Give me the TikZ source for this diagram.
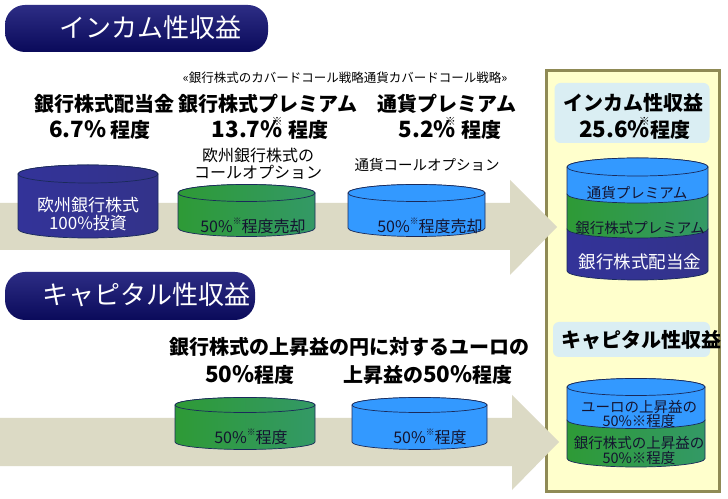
\documentclass[tikz,border=0pt]{standalone}
\usepackage{fontspec}
\setmainfont{Noto Sans CJK JP}
\definecolor{arrowc}{HTML}{DCDAC5}
\definecolor{panelfill}{HTML}{FFFFCC}
\definecolor{panelline}{HTML}{8F8A55}
\definecolor{lightbox}{HTML}{DAEEF3}
\definecolor{cylborder}{HTML}{1A2A5A}
\definecolor{navyL}{HTML}{333399}
\definecolor{navyM}{HTML}{6A6A9E}
\definecolor{navyR}{HTML}{33338A}
\definecolor{grnL}{HTML}{2E9A36}
\definecolor{grnM}{HTML}{00CC66}
\definecolor{grnR}{HTML}{339966}
\definecolor{bluL}{HTML}{3399FF}
\definecolor{bluM}{HTML}{33CCFF}
\definecolor{bluR}{HTML}{3399FF}
\definecolor{banT}{HTML}{2D2D85}
\definecolor{banM}{HTML}{7C7CA8}
\definecolor{banB}{HTML}{0A0A5A}
\definecolor{darktext}{HTML}{141430}
\newcommand\kup{\makebox[0pt][r]{\smash{\raisebox{0.6em}{\scalebox{0.55}{※}}}}\kern0.05em}
\newcommand\kin{\smash{\raisebox{0.5em}{\scalebox{0.55}{※}}}}
\newcommand\bignum[1]{\scalebox{1.12}{#1}}
\newcommand\cylseg[6]{%
  \pgfmathsetmacro\cylrx{(#2-#1)/2}%
  \path[#6,cylline] (#1,#3) -- (#1,#4)
    arc[start angle=180,end angle=360,x radius=\cylrx,y radius=#5]
    -- (#2,#3)
    arc[start angle=0,end angle=180,x radius=\cylrx,y radius=#5] -- cycle;}
\newcommand\cyltop[5]{%
  \pgfmathsetmacro\cylrx{(#2-#1)/2}%
  \pgfmathsetmacro\cylcx{(#1+#2)/2}%
  \path[#5,cylline] (\cylcx,#3) ellipse[x radius=\cylrx,y radius=#4];}
\begin{document}
\begin{tikzpicture}[x=1pt,y=1pt,
  cylline/.style={draw=cylborder,line width=0.7pt},
  navysh/.style={left color=navyL,middle color=navyM,right color=navyR},
  grnsh/.style={left color=grnL,middle color=grnM,right color=grnR},
  blush/.style={left color=bluL,middle color=bluM,right color=bluR},
  banner/.style={top color=banT,middle color=banM,bottom color=banB,rounded corners=20pt},
  bantext/.style={text=white,font=\fontsize{26}{28}\selectfont,inner sep=0pt},
  lbl/.style={font=\fontsize{20}{22}\selectfont\bfseries,inner sep=0pt},
  plain16/.style={font=\fontsize{16}{18}\selectfont,inner sep=0pt},
  plain14/.style={font=\fontsize{14.5}{16}\selectfont,inner sep=0pt},
  cyltext/.style={font=\fontsize{16}{18}\selectfont,text=darktext,inner sep=0pt},
  whitetext/.style={font=\fontsize{17}{19}\selectfont,text=white,inner sep=0pt},
  stacktext/.style={font=\fontsize{14.5}{14}\selectfont,text=darktext,inner sep=0pt,align=center},
  infobox/.style={fill=lightbox,rounded corners=6pt,inner sep=0pt}]
\useasboundingbox (0,0) rectangle (728,498);
\fill[white] (0,0) rectangle (728,498);

% right panel
\draw[fill=panelfill,draw=panelline,line width=3pt] (546.5,7) rectangle (719,427);

% arrows
\fill[arrowc] (0,295) -- (510,295) -- (510,318) -- (557,271) -- (510,223) -- (510,248) -- (0,248) -- cycle;
\fill[arrowc] (0,80) -- (512,80) -- (512,103) -- (559,56) -- (512,8) -- (512,32) -- (0,32) -- cycle;

% banners
\path[banner] (5,446) rectangle (268,493);
\node[bantext] (ban1) at (150,470) {インカム性収益};
\path[banner] (5,178) rectangle (255,226);
\node[bantext] (ban2) at (146,203) {キャピタル性収益};

% upper labels
\node[font=\fontsize{12.5}{14}\selectfont,inner sep=0pt] (cover) at (345,420) {«銀行株式のカバードコール戦略通貨カバードコール戦略»};
\node[lbl] (div1) at (104,394) {銀行株式配当金};
\node[lbl] (div2) at (100,368) {\bignum{6.7\%} 程度};
\node[lbl] (prm1) at (268,394) {銀行株式プレミアム};
\node[lbl] (prm2) at (270,368) {\bignum{13.7\%}\kup{} 程度};
\node[lbl] (cur1) at (447,394) {通貨プレミアム};
\node[lbl] (cur2) at (450,368) {\bignum{5.2\%}\kup{} 程度};
\node[plain16] (opt1) at (258,343) {欧州銀行株式の};
\node[plain16] (opt2) at (258,326) {コールオプション};
\node[plain14] (opt3) at (427,333) {通貨コールオプション};

% upper cylinders
\cylseg{18}{158}{324}{269}{9}{navysh}
\cyltop{18}{158}{324}{9}{navysh}
\node[whitetext] (inv1) at (88,293) {欧州銀行株式};
\node[whitetext] (inv2) at (88,275) {100\%投資};

\cylseg{178}{315}{305}{270}{8.5}{grnsh}
\cyltop{178}{315}{305}{8.5}{grnsh}
\node[cyltext] (sell1) at (253,272) {50\%\kin{}程度売却};

\cylseg{348}{485}{305}{270}{8.5}{blush}
\cyltop{348}{485}{305}{8.5}{blush}
\node[cyltext] (sell2) at (430,272) {50\%\kin{}程度売却};

% lower labels
\node[lbl] (cap1) at (259,151) {銀行株式の上昇益の};
\node[lbl] (cap2) at (439,151) {円に対するユーロの};
\node[lbl] (cap3) at (250,123) {\bignum{50\%}程度};
\node[lbl] (cap4) at (428,123) {上昇益の\bignum{50\%}程度};

% lower cylinders
\cylseg{175}{315}{93}{56}{7.5}{grnsh}
\cyltop{175}{315}{93}{7.5}{grnsh}
\node[cyltext] (lc1) at (251,61) {50\%\kin{}程度};

\cylseg{352}{487}{93}{56}{7.5}{blush}
\cyltop{352}{487}{93}{7.5}{blush}
\node[cyltext] (lc2) at (430,61) {50\%\kin{}程度};

% panel upper
\node[infobox,minimum width=155pt,minimum height=60pt] (ibox) at (632,385) {};
\node[lbl] (inc1) at (633,395) {インカム性収益};
\node[lbl] (inc2) at (635,368) {\bignum{25.6\%}\kup{}程度};

\cylseg{567}{708}{269}{227}{9}{navysh}
\cylseg{567}{708}{304}{269}{9}{grnsh}
\cylseg{567}{708}{331}{304}{9}{blush}
\cyltop{567}{708}{331}{9}{blush}
\node[stacktext] (st1) at (637,305) {通貨プレミアム};
\node[stacktext] (st2) at (640,270) {銀行株式プレミアム};
\node[font=\fontsize{17.5}{19}\selectfont,text=white,inner sep=0pt] (st3) at (640,236) {銀行株式配当金};

% panel lower
\node[infobox,minimum width=157pt,minimum height=35pt] (cbox) at (631.5,158.5) {};
\node[lbl] (capt) at (641,158) {キャピタル性収益};

\cylseg{567}{705}{78}{39.5}{8.5}{grnsh}
\cylseg{567}{705}{111}{78}{8.5}{blush}
\cyltop{567}{705}{111}{8.5}{blush}
\node[stacktext] (sl1) at (639,91) {ユーロの上昇益の};
\node[stacktext] (sl2) at (639,77) {50\%※程度};
\node[stacktext] (sl3) at (639,55) {銀行株式の上昇益の};
\node[stacktext] (sl4) at (639,40) {50\%※程度};
\end{tikzpicture}
\end{document}
